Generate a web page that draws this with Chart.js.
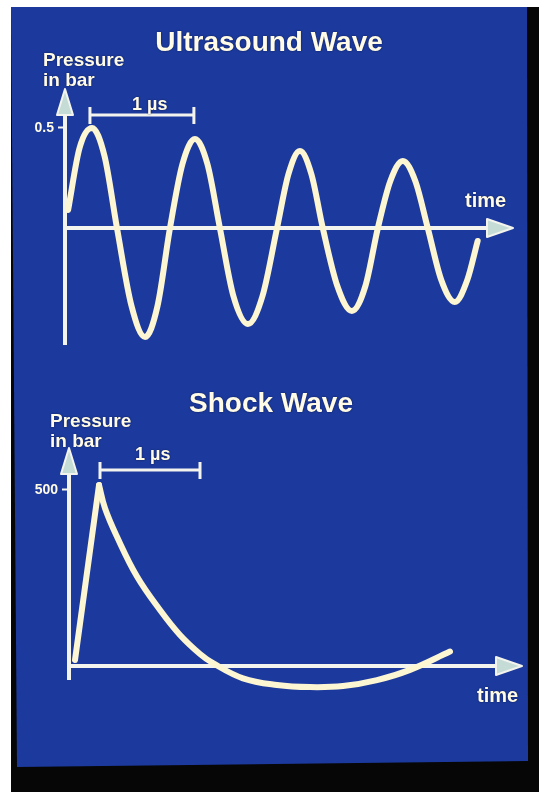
<!DOCTYPE html>
<html><head><meta charset="utf-8">
<script src="https://cdn.jsdelivr.net/npm/chart.js@4.4.1/dist/chart.umd.min.js"></script>
<style>
html,body{margin:0;padding:0;background:#fff;width:539px;height:794px;overflow:hidden;}
#frame{position:absolute;left:11px;top:7px;width:528px;height:785px;background:#060606;}
#panel{position:absolute;left:0;top:0;width:539px;height:794px;background:#1c3a9d;
  clip-path:polygon(11px 7px,527px 7px,528px 761px,17px 767px);}
canvas{position:absolute;left:0;}
.t{position:absolute;color:#fffbe6;font-family:"Liberation Sans",Arial,sans-serif;font-weight:bold;white-space:nowrap;line-height:1;
  text-shadow:0 0 2px rgba(10,20,60,0.8);}
</style></head><body>
<div id="frame"></div>
<div id="panel"></div>
<canvas id="c1" width="539" height="380" style="top:0px"></canvas>
<canvas id="c2" width="539" height="414" style="top:380px"></canvas>

<div class="t" style="left:269px;top:28px;font-size:28px;transform:translateX(-50%)">Ultrasound Wave</div>
<div class="t" style="left:43px;top:50px;font-size:19px;line-height:20px">Pressure<br>in bar</div>
<div class="t" style="left:132px;top:95px;font-size:18px">1 µs</div>
<div class="t" style="left:465px;top:190px;font-size:20px">time</div>

<div class="t" style="left:271px;top:389px;font-size:28px;transform:translateX(-50%)">Shock Wave</div>
<div class="t" style="left:50px;top:411px;font-size:19px;line-height:20px">Pressure<br>in bar</div>
<div class="t" style="left:135px;top:445px;font-size:18px">1 µs</div>
<div class="t" style="left:477px;top:685px;font-size:20px">time</div>

<script>
// ---- data (time in µs, pressure in bar) ----
const ultraTime = [0.03,0.14,0.26,0.38,0.50,0.64,0.77,0.89,1.01,1.13,1.25,1.37,1.49,1.62,1.76,1.90,2.04,2.15,2.26,2.37,2.48,2.62,2.76,2.89,3.01,3.13,3.25,3.37,3.49,3.62,3.75,3.87,3.97];
const ultraPressure = [0.09,0.40,0.50,0.36,0,-0.39,-0.545,-0.39,0,0.32,0.445,0.32,0,-0.34,-0.48,-0.34,0,0.27,0.385,0.27,0,-0.29,-0.415,-0.29,0,0.235,0.335,0.235,0,-0.26,-0.37,-0.26,-0.065];
const ultraTicks = [0.5];

const shockRiseTime = [0.06,0.30];
const shockRisePressure = [17,514];
const shockDecayTime = [0.30,0.36,0.48,0.68,0.91,1.11,1.31,1.44,1.74,2.08,2.41,2.74,3.08,3.41,3.81];
const shockDecayPressure = [514,448,367,254,159,88,34,8,-35,-54,-60,-57,-40,-11,41];
const shockTicks = [500];

// "1 µs" markers: [start, end] in µs, height in bar
const ultraMarker = [0.24, 1.24, 0.565];
const shockMarker = [0.31, 1.31, 557];

// ---- styles ----
const CURVE = '#fdf6d2';
const AXIS = '#f3f4ee';
const ARROW_FILL = '#c4dcd5';
const FONT = '"Liberation Sans", Arial, sans-serif';

const pts = (xs, ys) => xs.map((v, i) => ({x: v, y: ys[i]}));

function drawArrow(ctx, tx, ty, dir, len, half) {
  ctx.beginPath();
  if (dir === 'up') {
    ctx.moveTo(tx, ty); ctx.lineTo(tx - half, ty + len); ctx.lineTo(tx + half, ty + len);
  } else {
    ctx.moveTo(tx, ty); ctx.lineTo(tx - len, ty - half); ctx.lineTo(tx - len, ty + half);
  }
  ctx.closePath();
  ctx.fillStyle = ARROW_FILL; ctx.fill();
  ctx.lineWidth = 2; ctx.strokeStyle = AXIS; ctx.lineJoin = 'round'; ctx.stroke();
}

const axesPlugin = {
  id: 'axesArrows',
  beforeDatasetsDraw(chart, args, o) {
    const {ctx, chartArea: a, scales: {x, y}} = chart;
    const y0 = y.getPixelForValue(0);
    ctx.save();
    ctx.strokeStyle = AXIS; ctx.lineWidth = 4; ctx.lineCap = 'butt';
    ctx.beginPath(); ctx.moveTo(a.left, a.top + 20); ctx.lineTo(a.left, a.bottom); ctx.stroke();
    ctx.beginPath(); ctx.moveTo(a.left - 2, y0); ctx.lineTo(a.right - 22, y0); ctx.stroke();
    drawArrow(ctx, a.left, a.top, 'up', 26, 8);
    drawArrow(ctx, a.right, y0, 'right', 26, 9);
    const m = o.marker;
    const bx1 = x.getPixelForValue(m[0]), bx2 = x.getPixelForValue(m[1]), by = y.getPixelForValue(m[2]);
    ctx.lineWidth = 3; ctx.strokeStyle = AXIS;
    ctx.beginPath(); ctx.moveTo(bx1, by); ctx.lineTo(bx2, by);
    ctx.moveTo(bx1, by - 8); ctx.lineTo(bx1, by + 9);
    ctx.moveTo(bx2, by - 8); ctx.lineTo(bx2, by + 9);
    ctx.stroke();
    ctx.restore();
  }
};

function yScale(min, max, ticks, width) {
  return {
    min, max,
    afterFit(s) { s.width = width; },
    afterBuildTicks(s) { s.ticks = ticks.map(v => ({value: v})); },
    ticks: {color: '#fffbe6', font: {family: FONT, size: 14, weight: 'bold'}, padding: 4,
            callback: v => String(v)},
    grid: {drawOnChartArea: false, drawTicks: true, tickLength: 7, tickWidth: 2, tickColor: AXIS, color: AXIS},
    border: {display: false}
  };
}

const common = (padding) => ({
  responsive: false, animation: false, devicePixelRatio: 1,
  layout: {padding}
});

new Chart(document.getElementById('c1'), {
  type: 'line',
  data: {datasets: [{
    data: pts(ultraTime, ultraPressure),
    borderColor: CURVE, borderWidth: 6, pointRadius: 0,
    cubicInterpolationMode: 'monotone', borderCapStyle: 'round', borderJoinStyle: 'round', clip: false
  }]},
  options: Object.assign(common({top: 89, bottom: 35, left: 0, right: 26}), {
    scales: {
      x: {type: 'linear', min: 0, max: 4.31, display: false},
      y: yScale(-0.585, 0.695, ultraTicks, 65)
    },
    plugins: {legend: {display: false}, tooltip: {enabled: false}, axesArrows: {marker: ultraMarker}}
  }),
  plugins: [axesPlugin]
});

new Chart(document.getElementById('c2'), {
  type: 'line',
  data: {datasets: [
    {data: pts(shockRiseTime, shockRisePressure), borderColor: CURVE, borderWidth: 6, pointRadius: 0,
     tension: 0, borderCapStyle: 'round', clip: false},
    {data: pts(shockDecayTime, shockDecayPressure), borderColor: CURVE, borderWidth: 6, pointRadius: 0,
     tension: 0.4, borderCapStyle: 'round', borderJoinStyle: 'round', clip: false}
  ]},
  options: Object.assign(common({top: 68, bottom: 114, left: 0, right: 17}), {
    scales: {
      x: {type: 'linear', min: 0, max: 4.53, display: false},
      y: yScale(-39.8, 619.3, shockTicks, 69)
    },
    plugins: {legend: {display: false}, tooltip: {enabled: false}, axesArrows: {marker: shockMarker}}
  }),
  plugins: [axesPlugin]
});
</script>
</body></html>
